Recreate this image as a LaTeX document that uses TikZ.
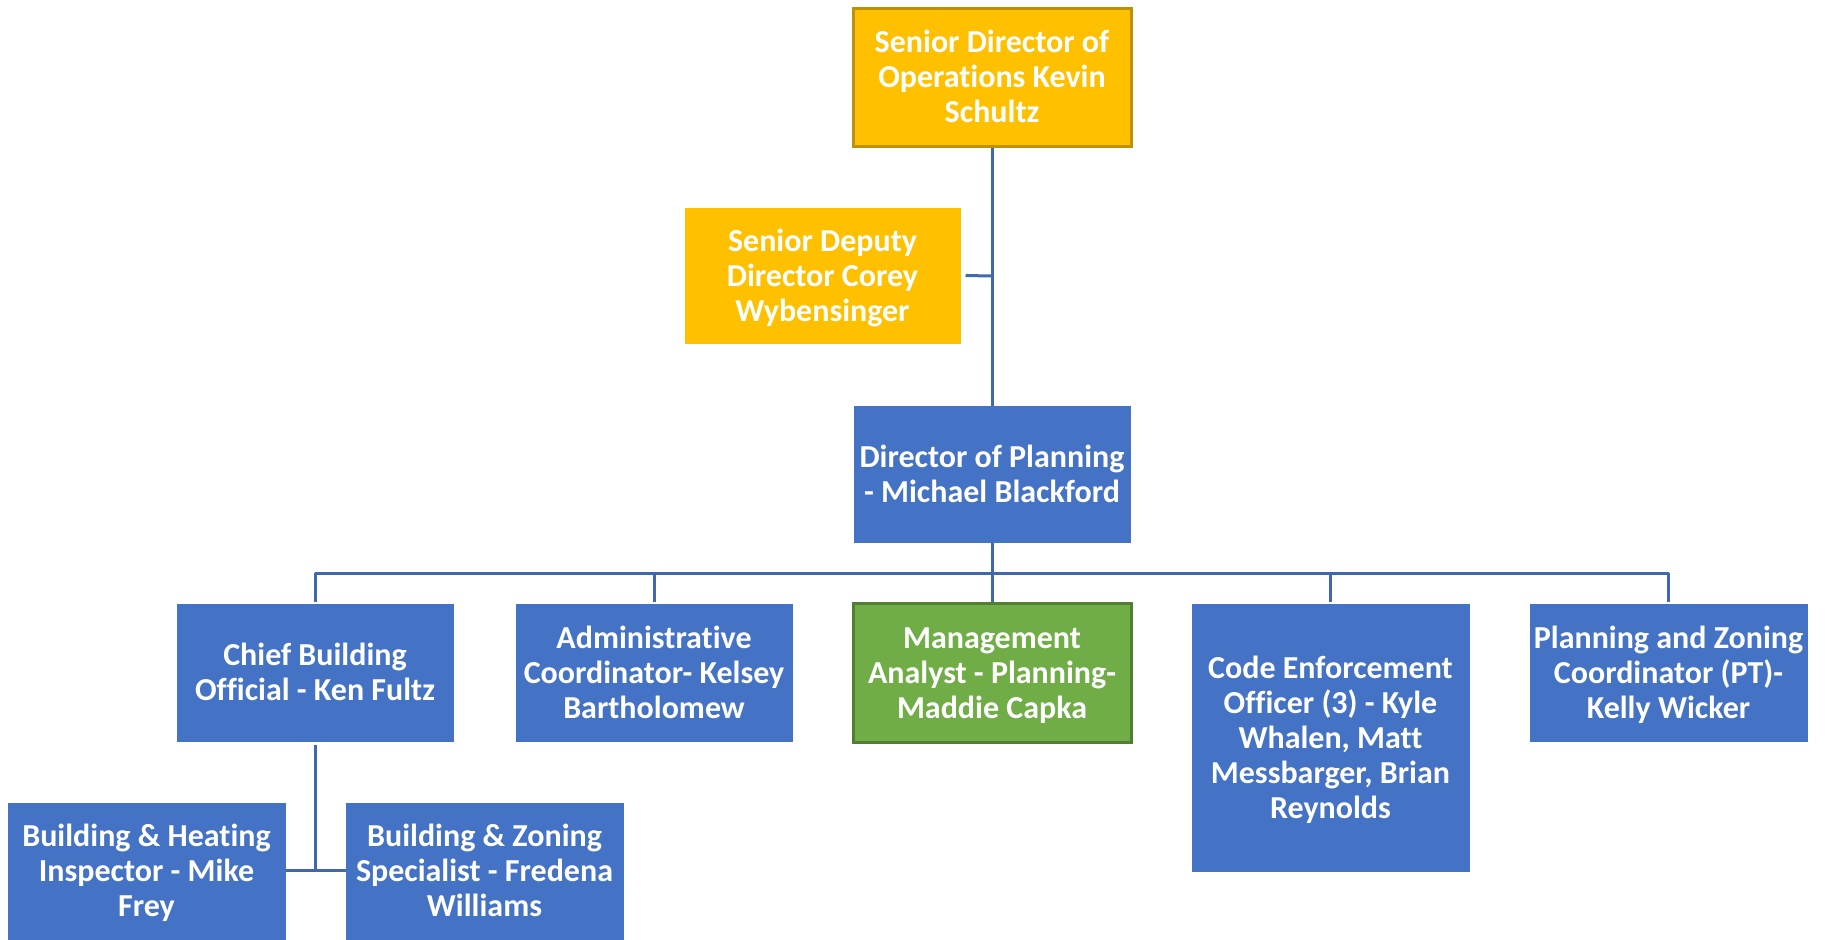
\documentclass[tikz,border=0pt]{standalone}
\usepackage{fontspec}
\setmainfont{Carlito}[Ligatures=NoCommon]
\definecolor{gold}{HTML}{FFC000}
\definecolor{goldline}{HTML}{BF9000}
\definecolor{blu}{HTML}{4472C4}
\definecolor{bluline}{HTML}{4068B0}
\definecolor{grn}{HTML}{70AD47}
\definecolor{grnline}{HTML}{507E32}
\newcommand\tpad{\rule{0pt}{16pt}}
\tikzset{
  box/.style={rectangle, fill=blu, draw=blu, line width=0.5pt, text=white, align=center,
    font=\fontsize{16pt}{17.5pt}\selectfont\bfseries, inner sep=0pt,
    execute at end node=\strut},
  goldbox/.style={box, fill=gold, draw=gold},
  conn/.style={draw=bluline, line width=1.5pt},
}
\begin{document}
\begin{tikzpicture}[x=0.5pt,y=-0.5pt]
\useasboundingbox (0,0) rectangle (1829,939);
\clip (0,0) rectangle (1829,939);
\node[goldbox, draw=goldline, line width=1.5pt, minimum width=139pt, minimum height=69pt] (top) at (992,77) {\tpad Senior Director of\\Operations Kevin\\Schultz};
\node[goldbox, minimum width=137.5pt, minimum height=67.5pt] (dep) at (822.5,275.5) {\tpad Senior Deputy\\Director Corey\\Wybensinger};
\node[box, minimum width=138pt, minimum height=68pt] (dir) at (992,474) {\tpad Director of Planning\\- Michael Blackford};
\node[box, minimum width=138pt, minimum height=68.5pt] (chief) at (315,672.5) {\tpad Chief Building\\Official - Ken Fultz};
\node[box, minimum width=138pt, minimum height=68.5pt] (admin) at (654,672.5) {\tpad Administrative\\Coordinator- Kelsey\\Bartholomew};
\node[box, fill=grn, draw=grnline, line width=1.5pt, minimum width=139pt, minimum height=69.5pt] (mgmt) at (992,672.5) {\tpad Management\\Analyst - Planning-\\Maddie Capka};
\node[box, minimum width=138.5pt, minimum height=133.5pt] (code) at (1330.5,737.5) {\tpad Code Enforcement\\Officer (3) - Kyle\\Whalen, Matt\\Messbarger, Brian\\Reynolds};
\node[box, minimum width=138.5pt, minimum height=68.5pt] (pz) at (1668.5,672.5) {\tpad Planning and Zoning\\Coordinator (PT)-\\Kelly Wicker};
\node[box, minimum width=138.5pt, minimum height=68pt] (bh) at (146.5,871) {\tpad Building \& Heating\\Inspector - Mike\\Frey};
\node[box, minimum width=138.5pt, minimum height=68pt] (bz) at (484.5,871) {\tpad Building \& Zoning\\Specialist - Fredena\\Williams};
% connectors
\coordinate (bus) at (992,573);
\coordinate (depj) at (992,276);
\draw[conn] (top.south) -- (dir.north);
\draw[conn] ([xshift=2.5pt]dep.east) -- (depj);
\draw[conn] (dir.south) -- (mgmt.north);
\draw[conn] (chief.north |- bus) -- (pz.north |- bus);
\foreach \n in {chief,admin,code,pz}{
  \draw[conn] (\n.north |- bus) -- ([yshift=1pt]\n.north);
}
\coordinate (cj) at (315,870);
\draw[conn] ([yshift=-1.5pt]chief.south) -- (cj);
\draw[conn] (bh.east |- cj) -- (bz.west |- cj);
\end{tikzpicture}
\end{document}
